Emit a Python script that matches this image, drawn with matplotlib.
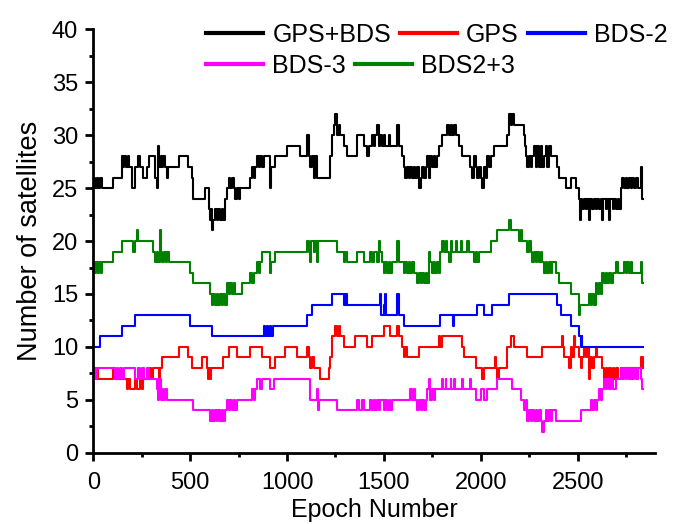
# Number of visible satellites per epoch for each constellation combination
import matplotlib.pyplot as plt
from matplotlib.ticker import MultipleLocator

plt.rcParams['font.family'] = ['Liberation Sans', 'DejaVu Sans']

# (epoch, number of satellites) at each change
gps_bds = [(0, 26), (9, 25), (17, 26), (26, 25), (35, 26), (43, 25), (100, 26), (147, 28), (155, 27), (160, 28),
           (169, 27), (178, 28), (186, 27), (198, 25), (216, 27), (233, 28), (241, 27), (259, 26), (276, 27),
           (285, 28), (319, 26), (328, 25), (336, 29), (341, 27), (348, 28), (355, 27), (362, 28), (369, 27),
           (379, 26), (388, 27), (440, 28), (491, 27), (508, 26), (517, 24), (577, 25), (595, 23), (603, 22),
           (610, 23), (615, 21), (620, 22), (629, 23), (638, 22), (646, 23), (655, 22), (664, 23), (672, 22),
           (681, 24), (689, 25), (698, 26), (707, 25), (715, 26), (724, 25), (733, 24), (741, 25), (750, 24),
           (758, 25), (810, 26), (819, 27), (827, 26), (836, 27), (845, 28), (853, 27), (862, 28), (870, 27),
           (879, 28), (913, 25), (918, 27), (939, 28), (999, 29), (1068, 28), (1103, 30), (1112, 28), (1120, 27),
           (1129, 28), (1137, 26), (1146, 28), (1155, 26), (1224, 28), (1232, 30), (1241, 31), (1249, 32),
           (1258, 30), (1267, 31), (1275, 30), (1292, 29), (1310, 28), (1361, 30), (1396, 29), (1413, 28),
           (1422, 29), (1439, 30), (1448, 29), (1456, 30), (1465, 31), (1474, 29), (1482, 30), (1490, 29),
           (1499, 30), (1508, 29), (1525, 30), (1534, 29), (1568, 31), (1577, 29), (1594, 28), (1603, 27),
           (1611, 26), (1620, 27), (1629, 26), (1637, 27), (1646, 26), (1654, 27), (1663, 26), (1672, 27),
           (1680, 25), (1689, 26), (1697, 27), (1706, 26), (1715, 27), (1723, 28), (1732, 26), (1740, 28),
           (1749, 27), (1758, 28), (1766, 27), (1775, 28), (1784, 29), (1801, 30), (1827, 31), (1835, 30),
           (1844, 31), (1853, 30), (1861, 31), (1870, 30), (1887, 29), (1904, 28), (1947, 27), (1956, 26),
           (1964, 28), (1973, 27), (1982, 26), (1990, 27), (1999, 26), (2008, 25), (2016, 27), (2025, 26),
           (2033, 28), (2042, 27), (2051, 28), (2068, 29), (2137, 30), (2145, 32), (2154, 31), (2163, 32),
           (2171, 31), (2223, 30), (2227, 29), (2231, 28), (2240, 27), (2249, 28), (2257, 27), (2266, 28),
           (2275, 29), (2283, 27), (2292, 29), (2300, 27), (2309, 29), (2318, 27), (2326, 28), (2335, 29),
           (2344, 27), (2352, 29), (2361, 28), (2378, 28), (2395, 27), (2404, 26), (2438, 25), (2464, 26),
           (2490, 25), (2507, 24), (2512, 22), (2516, 24), (2524, 23), (2533, 24), (2542, 23), (2550, 24),
           (2559, 22), (2564, 24), (2576, 23), (2585, 24), (2593, 23), (2602, 24), (2611, 23), (2619, 24),
           (2628, 22), (2633, 24), (2645, 23), (2654, 24), (2662, 22), (2667, 24), (2680, 23), (2688, 24),
           (2697, 23), (2706, 24), (2714, 23), (2723, 25), (2731, 26), (2740, 25), (2749, 26), (2757, 25),
           (2766, 26), (2775, 25), (2783, 26), (2792, 25), (2800, 26), (2809, 25), (2826, 27), (2831, 24),
           (2835, 24)]

gps = [(0, 8), (8, 7), (17, 8), (24, 7), (100, 8), (110, 7), (173, 6), (180, 7), (190, 6), (215, 7), (224, 6),
       (241, 7), (250, 6), (259, 7), (285, 8), (300, 7), (310, 8), (340, 7), (345, 8), (353, 9), (440, 10),
       (491, 9), (508, 8), (560, 9), (586, 8), (590, 7), (595, 8), (603, 7), (610, 8), (672, 9), (698, 10),
       (741, 9), (810, 10), (870, 9), (913, 8), (939, 9), (991, 10), (1051, 9), (1103, 10), (1112, 9),
       (1120, 8), (1129, 9), (1137, 8), (1172, 7), (1215, 8), (1224, 9), (1232, 11), (1249, 12), (1258, 11),
       (1267, 12), (1275, 11), (1292, 10), (1353, 11), (1413, 10), (1439, 11), (1499, 12), (1534, 11),
       (1568, 12), (1577, 11), (1594, 10), (1603, 9), (1611, 10), (1620, 9), (1680, 10), (1784, 11),
       (1792, 10), (1801, 11), (1904, 10), (1913, 9), (1973, 8), (2008, 7), (2016, 8), (2076, 9), (2080, 8),
       (2085, 7), (2093, 8), (2137, 10), (2154, 11), (2171, 10), (2240, 9), (2318, 10), (2421, 11),
       (2425, 10), (2430, 9), (2456, 8), (2464, 10), (2473, 9), (2481, 11), (2486, 10), (2507, 9), (2516, 8),
       (2524, 9), (2533, 10), (2542, 9), (2550, 10), (2559, 7), (2564, 9), (2576, 8), (2585, 9), (2593, 10),
       (2602, 9), (2628, 8), (2636, 7), (2645, 8), (2654, 7), (2662, 8), (2671, 7), (2680, 8), (2688, 7),
       (2697, 8), (2706, 7), (2723, 8), (2826, 9), (2835, 8)]

bds2 = [(0, 10), (35, 11), (147, 12), (216, 13), (500, 12), (612, 11), (879, 12), (884, 11), (896, 12),
        (901, 11), (913, 12), (918, 11), (930, 12), (1103, 13), (1129, 14), (1232, 15), (1292, 14), (1297, 15),
        (1301, 14), (1306, 15), (1310, 14), (1482, 15), (1487, 13), (1499, 14), (1504, 13), (1508, 15),
        (1513, 13), (1568, 15), (1577, 13), (1603, 12), (1792, 13), (1856, 12), (1860, 13), (1982, 14),
        (2016, 13), (2059, 14), (2145, 15), (2395, 14), (2413, 13), (2464, 12), (2507, 11), (2516, 10),
        (2520, 11), (2524, 10), (2835, 10)]

bds3 = [(0, 7), (6, 8), (12, 7), (20, 8), (110, 7), (120, 8), (130, 7), (140, 8), (150, 7), (160, 8), (216, 7),
        (233, 8), (240, 7), (250, 8), (260, 7), (276, 8), (285, 7), (328, 6), (336, 5), (341, 7), (348, 5),
        (353, 6), (362, 5), (370, 6), (379, 5), (517, 4), (603, 3), (612, 4), (620, 3), (629, 4), (638, 3),
        (646, 4), (655, 3), (664, 4), (672, 3), (681, 4), (689, 5), (698, 4), (707, 5), (715, 4), (724, 5),
        (733, 4), (741, 5), (819, 6), (827, 5), (836, 6), (845, 7), (862, 6), (870, 7), (913, 6), (931, 7),
        (1120, 5), (1155, 6), (1160, 4), (1165, 5), (1258, 4), (1361, 5), (1370, 4), (1387, 5), (1396, 4),
        (1430, 5), (1439, 4), (1448, 5), (1456, 4), (1465, 5), (1474, 4), (1482, 5), (1499, 4), (1508, 5),
        (1516, 4), (1525, 5), (1534, 4), (1542, 5), (1637, 6), (1646, 5), (1654, 6), (1663, 5), (1672, 4),
        (1680, 5), (1689, 4), (1697, 5), (1706, 4), (1715, 5), (1723, 6), (1732, 7), (1736, 6), (1740, 5),
        (1749, 6), (1758, 5), (1766, 6), (1801, 7), (1805, 6), (1818, 7), (1822, 6), (1844, 7), (1848, 6),
        (1861, 7), (1865, 6), (1904, 7), (1908, 6), (1947, 7), (1951, 6), (1973, 5), (1999, 6), (2016, 5),
        (2033, 6), (2085, 7), (2163, 6), (2206, 5), (2223, 4), (2231, 5), (2240, 3), (2249, 4), (2257, 3),
        (2266, 4), (2275, 3), (2283, 4), (2292, 3), (2300, 4), (2309, 3), (2318, 2), (2326, 3), (2335, 4),
        (2344, 3), (2352, 4), (2361, 3), (2370, 4), (2387, 3), (2516, 4), (2568, 5), (2576, 4), (2585, 5),
        (2593, 4), (2602, 5), (2611, 6), (2619, 5), (2628, 6), (2636, 7), (2645, 6), (2654, 7), (2662, 6),
        (2671, 7), (2680, 6), (2697, 7), (2723, 8), (2731, 7), (2740, 8), (2749, 7), (2757, 8), (2766, 7),
        (2775, 8), (2783, 7), (2792, 8), (2800, 7), (2809, 8), (2826, 7), (2831, 6), (2835, 6)]

bds23 = [(0, 18), (8, 17), (16, 18), (24, 17), (32, 18), (40, 17), (43, 18), (100, 19), (147, 20), (207, 19),
         (216, 20), (224, 21), (233, 20), (310, 19), (319, 18), (328, 19), (336, 18), (345, 21), (350, 19),
         (357, 18), (365, 19), (374, 18), (382, 19), (390, 18), (500, 17), (517, 16), (603, 15), (612, 14),
         (620, 15), (629, 14), (638, 15), (646, 14), (655, 15), (664, 14), (672, 15), (681, 14), (689, 16),
         (698, 15), (707, 16), (715, 15), (724, 16), (733, 15), (767, 16), (810, 17), (819, 16), (827, 17),
         (845, 18), (853, 17), (862, 18), (870, 19), (913, 17), (918, 18), (939, 19), (1103, 20), (1112, 19),
         (1120, 18), (1125, 20), (1137, 19), (1146, 20), (1155, 18), (1160, 20), (1258, 19), (1292, 18),
         (1301, 19), (1310, 18), (1361, 19), (1396, 18), (1430, 19), (1439, 18), (1448, 19), (1465, 18),
         (1474, 20), (1482, 19), (1490, 18), (1499, 17), (1508, 18), (1516, 17), (1525, 18), (1534, 17),
         (1542, 18), (1568, 20), (1577, 18), (1603, 17), (1611, 18), (1620, 17), (1629, 18), (1637, 17),
         (1646, 18), (1654, 17), (1672, 16), (1680, 17), (1689, 16), (1697, 17), (1706, 16), (1715, 17),
         (1723, 16), (1732, 19), (1740, 18), (1749, 17), (1758, 18), (1766, 17), (1775, 18), (1784, 17),
         (1792, 19), (1800, 20), (1809, 19), (1818, 20), (1827, 19), (1835, 18), (1844, 20), (1853, 19),
         (1870, 20), (1878, 19), (1896, 20), (1904, 19), (1930, 20), (1938, 19), (1964, 18), (1973, 19),
         (1982, 18), (1990, 19), (2051, 20), (2085, 21), (2145, 22), (2154, 21), (2197, 20), (2206, 21),
         (2214, 20), (2240, 19), (2249, 20), (2257, 19), (2266, 18), (2275, 19), (2283, 18), (2292, 19),
         (2300, 18), (2309, 19), (2318, 18), (2326, 17), (2335, 18), (2344, 17), (2352, 18), (2361, 17),
         (2370, 18), (2387, 17), (2404, 16), (2464, 15), (2507, 13), (2512, 14), (2559, 15), (2567, 14),
         (2576, 15), (2585, 14), (2593, 16), (2602, 15), (2611, 16), (2619, 15), (2628, 17), (2636, 16),
         (2645, 17), (2654, 16), (2662, 17), (2671, 16), (2680, 17), (2697, 18), (2706, 17), (2740, 18),
         (2749, 17), (2757, 18), (2766, 17), (2775, 18), (2783, 17), (2826, 18), (2831, 16), (2835, 16)]

names = ['GPS+BDS', 'GPS', 'BDS-2', 'BDS-3', 'BDS2+3']
series = [gps_bds, gps, bds2, bds3, bds23]
colors = ['black', '#ff0000', '#0000ff', '#ff00ff', '#008000']

fig = plt.figure(figsize=(6.86, 5.24), dpi=100)
ax = fig.add_axes([0.136, 0.136, 0.819, 0.808])

lines = []
for data, name, c in zip(series, names, colors):
    ep = [p[0] for p in data]
    val = [p[1] for p in data]
    ln, = ax.plot(ep, val, drawstyle='steps-post', color=c, lw=1.5, label=name)
    lines.append(ln)

ax.set_xlim(0, 2900)
ax.set_ylim(0, 40)
ax.xaxis.set_major_locator(MultipleLocator(500))
ax.xaxis.set_minor_locator(MultipleLocator(250))
ax.yaxis.set_major_locator(MultipleLocator(5))
ax.yaxis.set_minor_locator(MultipleLocator(2.5))
for s in ['top', 'right']:
    ax.spines[s].set_visible(False)
for s in ['left', 'bottom']:
    ax.spines[s].set_linewidth(2)
ax.tick_params(which='major', direction='out', length=6, width=2, labelsize=17)
ax.tick_params(which='minor', direction='out', length=3, width=2)
ax.tick_params(axis='x', which='major', pad=8)
ax.tick_params(axis='y', which='major', pad=5)
ax.set_xlabel('Epoch Number', fontsize=18, labelpad=3)
ax.set_ylabel('Number of satellites', fontsize=19.5, labelpad=6)

leg_kw = dict(frameon=False, fontsize=18, handlelength=2.3, handletextpad=0.35, columnspacing=0.35,
              borderpad=0, borderaxespad=0, loc='center left')
leg1 = fig.legend(lines[:3], names[:3], ncol=3, bbox_to_anchor=(206 / 686, 1 - 35 / 524), **leg_kw)
leg2 = fig.legend(lines[3:], names[3:], ncol=2, bbox_to_anchor=(206 / 686, 1 - 66 / 524), **leg_kw)
for leg in (leg1, leg2):
    for h in leg.legend_handles:
        h.set_linewidth(3)

fig.savefig('out.png', dpi=100)
